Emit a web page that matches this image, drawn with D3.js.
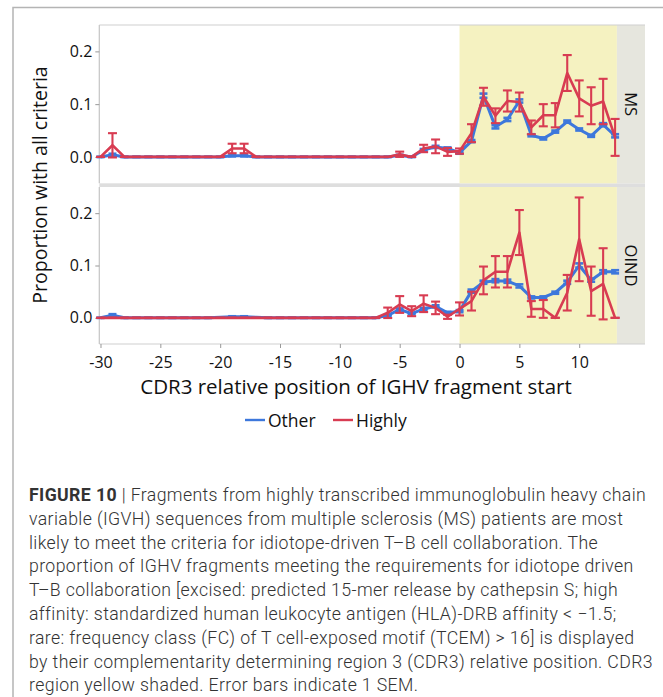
<!DOCTYPE html>
<html>
<head>
<meta charset="utf-8">
<script src="https://cdn.jsdelivr.net/npm/d3@7"></script>
<style>
  html, body { margin: 0; padding: 0; background: #fff; }
  svg { display: block; }
</style>
</head>
<body>
<svg id="fig" width="663" height="697"></svg>
<script>
// CDR3-relative start position of each IGHV fragment
const positions = [-30, -29, -28, -27, -26, -25, -24, -23, -22, -21, -20, -19, -18, -17, -16, -15,
  -14, -13, -12, -11, -10, -9, -8, -7, -6, -5, -4, -3, -2, -1, 0, 1, 2, 3, 4, 5, 6, 7, 8, 9, 10, 11, 12, 13];

// MS panel: proportion meeting all criteria, and its SEM
const msOther = [0, 0.004, 0, 0, 0, 0, 0, 0, 0, 0, 0, 0.002, 0.002, 0, 0, 0,
  0, 0, 0, 0, 0, 0, 0, 0, 0, 0.003, 0, 0.013, 0.019, 0.016, 0.008, 0.030, 0.116, 0.057, 0.071, 0.106, 0.041, 0.035, 0.048, 0.067, 0.052, 0.040, 0.061, 0.040];
const msOtherSem = [0, 0.002, 0, 0, 0, 0, 0, 0, 0, 0, 0, 0.001, 0.001, 0, 0, 0,
  0, 0, 0, 0, 0, 0, 0, 0, 0, 0.001, 0, 0.002, 0.002, 0.002, 0.002, 0.002, 0.004, 0.003, 0.003, 0.003, 0.002, 0.002, 0.002, 0.002, 0.002, 0.002, 0.003, 0.003];
const msHighly = [0, 0.022, 0, 0, 0, 0, 0, 0, 0, 0, 0, 0.016, 0.016, 0, 0, 0,
  0, 0, 0, 0, 0, 0, 0, 0, 0, 0.005, 0, 0.016, 0.020, 0.0095, 0.011, 0.045, 0.114, 0.078, 0.106, 0.104, 0.056, 0.079, 0.079, 0.159, 0.111, 0.097, 0.105, 0.037];
const msHighlySem = [0, 0.023, 0, 0, 0, 0, 0, 0, 0, 0, 0, 0.009, 0.009, 0, 0, 0,
  0, 0, 0, 0, 0, 0, 0, 0, 0, 0.005, 0, 0.007, 0.013, 0.0075, 0.005, 0.017, 0.017, 0.014, 0.020, 0.018, 0.013, 0.021, 0.023, 0.034, 0.034, 0.035, 0.043, 0.035];

// OIND panel
const oindOther = [0, 0.005, 0, 0, 0, 0, 0, 0, 0, 0, 0.001, 0.002, 0.002, 0.001, 0, 0,
  0, 0, 0, 0, 0, 0, 0, 0, 0.0045, 0.016, 0.008, 0.017, 0.022, 0.0096, 0.0128, 0.051, 0.068, 0.071, 0.070, 0.061, 0.039, 0.039, 0.048, 0.068, 0.100, 0.072, 0.088, 0.088];
const oindOtherSem = [0, 0.002, 0, 0, 0, 0, 0, 0, 0, 0, 0, 0.001, 0.001, 0, 0, 0,
  0, 0, 0, 0, 0, 0, 0, 0, 0.001, 0.002, 0.001, 0.002, 0.002, 0.002, 0.002, 0.003, 0.003, 0.003, 0.003, 0.003, 0.002, 0.002, 0.002, 0.003, 0.004, 0.003, 0.003, 0.003];
const oindHighly = [0, 0, 0, 0, 0, 0, 0, 0, 0, 0, 0, 0, 0, 0, 0, 0,
  0, 0, 0, 0, 0, 0, 0, 0, 0.0096, 0.0255, 0.0127, 0.027, 0.019, 0.002, 0.017, 0.032, 0.0715, 0.088, 0.088, 0.163, 0.017, 0.017, 0, 0.048, 0.150, 0.051, 0.065, 0];
const oindHighlySem = [0, 0, 0, 0, 0, 0, 0, 0, 0, 0, 0, 0, 0, 0, 0, 0,
  0, 0, 0, 0, 0, 0, 0, 0, 0.010, 0.016, 0.0095, 0.016, 0.012, 0.004, 0.0125, 0.018, 0.0265, 0.030, 0.030, 0.043, 0.015, 0.017, 0, 0.034, 0.080, 0.047, 0.068, 0];

const xTicks = [-30, -25, -20, -15, -10, -5, 0, 5, 10];
const yTicks = [0, 0.1, 0.2];
const cdr3Span = [0, 13.15];
const panelNames = ["MS", "OIND"];
const seriesNames = ["Other", "Highly"];

const captionLines = [
  [["FIGURE 10", true], [" | Fragments from highly transcribed immunoglobulin heavy chain", false]],
  [["variable (IGVH) sequences from multiple sclerosis (MS) patients are most", false]],
  [["likely to meet the criteria for idiotope-driven T\u2013B cell collaboration. The", false]],
  [["proportion of IGHV fragments meeting the requirements for idiotope driven", false]],
  [["T\u2013B collaboration [excised: predicted 15-mer release by cathepsin S; high", false]],
  [["affinity: standardized human leukocyte antigen (HLA)-DRB affinity < \u22121.5;", false]],
  [["rare: frequency class (FC) of T cell-exposed motif (TCEM) > 16] is displayed", false]],
  [["by their complementarity determining region 3 (CDR3) relative position. CDR3", false]],
  [["region yellow shaded. Error bars indicate 1 SEM.", false]]
];

const colors = { Other: "#3d78dc", Highly: "#d83c52" };
const axisFont = "'Open Sans', 'Noto Sans', sans-serif";

const svg = d3.select("#fig");

// figure frame
svg.append("path")
  .attr("d", "M13,697 V7.5 H663")
  .attr("fill", "none").attr("stroke", "#b4b4b4").attr("stroke-width", 1.5);

const plotL = 99.3, plotR = 616.9, stripR = 645;
const x = d3.scaleLinear().domain([-30.1, 13.15]).range([plotL, plotR]);

const panels = [
  { name: "MS", top: 25, bottom: 183.3, other: msOther, otherSem: msOtherSem, highly: msHighly, highlySem: msHighlySem },
  { name: "OIND", top: 187, bottom: 344, other: oindOther, otherSem: oindOtherSem, highly: oindHighly, highlySem: oindHighlySem }
];

// gap band between the two panels
svg.append("rect")
  .attr("x", plotL).attr("y", 183.3).attr("width", stripR - plotL).attr("height", 3.7)
  .attr("fill", "#dedede");

panels.forEach((p, pi) => {
  const y = d3.scaleLinear().domain([-0.05, 0.25]).range([p.bottom, p.top]);
  const g = svg.append("g");

  // CDR3 shading
  g.append("rect")
    .attr("x", x(cdr3Span[0])).attr("y", p.top)
    .attr("width", x(cdr3Span[1]) - x(cdr3Span[0])).attr("height", p.bottom - p.top)
    .attr("fill", "#f5f2c1");

  // strip with panel name
  g.append("rect")
    .attr("x", plotR).attr("y", p.top).attr("width", stripR - plotR).attr("height", p.bottom - p.top)
    .attr("fill", "#e6e6de");
  g.append("text")
    .attr("transform", `translate(${(plotR + stripR) / 2 - 6},${(p.top + p.bottom) / 2}) rotate(90)`)
    .attr("text-anchor", "middle")
    .attr("font-family", axisFont).attr("font-size", 16.5).attr("fill", "#111")
    .text(panelNames[pi]);

  // panel borders
  if (pi === 0) {
    g.append("line").attr("x1", plotL).attr("x2", stripR).attr("y1", p.top).attr("y2", p.top)
      .attr("stroke", "#cfcfcf").attr("stroke-width", 1.2);
  } else {
    g.append("line").attr("x1", plotL).attr("x2", stripR).attr("y1", p.bottom).attr("y2", p.bottom)
      .attr("stroke", "#cfcfcf").attr("stroke-width", 1.2);
  }
  g.append("line").attr("x1", plotL).attr("x2", plotL).attr("y1", p.top).attr("y2", p.bottom)
    .attr("stroke", "#c4c4c4").attr("stroke-width", 1.2);

  // y axis
  const yAxis = d3.axisLeft(y).tickValues(yTicks).tickFormat(d3.format(".1f")).tickSize(4).tickPadding(3);
  const ya = g.append("g").attr("transform", `translate(${plotL},0)`).call(yAxis);
  ya.select(".domain").remove();
  ya.selectAll(".tick line").attr("stroke", "#999");
  ya.selectAll(".tick text").attr("font-family", axisFont).attr("font-size", 16).attr("fill", "#111");

  // series
  const drawSeries = (vals, sems, color, width, capW, capStroke) => {
    const pts = positions.map((v, i) => ({ v, m: vals[i], s: sems[i] }));
    const line = d3.line().x(d => x(d.v)).y(d => y(d.m));
    const sg = g.append("g");
    sg.append("path").datum(pts).attr("d", line)
      .attr("fill", "none").attr("stroke", color).attr("stroke-width", width)
      .attr("stroke-linejoin", "round");
    const eb = sg.selectAll(".eb").data(pts).join("g");
    eb.append("line")
      .attr("x1", d => x(d.v)).attr("x2", d => x(d.v))
      .attr("y1", d => y(d.m + d.s)).attr("y2", d => y(d.m - d.s))
      .attr("stroke", color).attr("stroke-width", capStroke);
    [1, -1].forEach(sgn => {
      eb.append("line")
        .attr("x1", d => x(d.v) - capW / 2).attr("x2", d => x(d.v) + capW / 2)
        .attr("y1", d => y(d.m + sgn * d.s)).attr("y2", d => y(d.m + sgn * d.s))
        .attr("stroke", color).attr("stroke-width", capStroke);
    });
  };
  drawSeries(p.other, p.otherSem, colors.Other, 3, 8, 2.6);
  drawSeries(p.highly, p.highlySem, colors.Highly, 2.6, 9, 2.1);

  // x ticks under the lower panel
  if (pi === 1) {
    const xAxis = d3.axisBottom(x).tickValues(xTicks).tickSize(4).tickPadding(9).tickFormat(d3.format("d"));
    const xa = svg.append("g").attr("transform", `translate(0,${p.bottom})`).call(xAxis);
    xa.select(".domain").remove();
    xa.selectAll(".tick line").attr("stroke", "#999");
    xa.selectAll(".tick text").attr("font-family", axisFont).attr("font-size", 16).attr("fill", "#111")
      .text(d => d < 0 ? "-" + Math.abs(d) : d);
  }
});

// axis titles
svg.append("text")
  .attr("x", 356).attr("y", 394)
  .attr("text-anchor", "middle")
  .attr("font-family", axisFont).attr("font-size", 20.5).attr("fill", "#111")
  .text("CDR3 relative position of IGHV fragment start");
svg.append("text")
  .attr("transform", "translate(47,185) rotate(-90)")
  .attr("text-anchor", "middle")
  .attr("font-family", axisFont).attr("font-size", 19.5).attr("fill", "#111")
  .text("Proportion with all criteria");

// legend
const legend = svg.append("g").attr("transform", "translate(245,420)");
[["Other", 0], ["Highly", 88]].forEach(([name, dx]) => {
  legend.append("line").attr("x1", dx).attr("x2", dx + 20).attr("y1", 0).attr("y2", 0)
    .attr("stroke", colors[name]).attr("stroke-width", 2.4);
  legend.append("text").attr("x", dx + 23).attr("y", 6.5)
    .attr("font-family", axisFont).attr("font-size", 17.5).attr("fill", "#111")
    .text(name);
});

// caption
const cap = svg.append("text")
  .attr("font-family", "Roboto, 'Liberation Sans', sans-serif")
  .attr("font-size", 17.7).attr("letter-spacing", 0.38).attr("fill", "#333");
captionLines.forEach((segs, i) => {
  const t = cap.append("tspan").attr("x", 29).attr("y", 501 + i * 23.8);
  segs.forEach(([txt, bold], j) => {
    const s = j === 0 ? t : cap.append("tspan");
    s.attr("font-weight", bold ? 700 : 300).text(txt);
  });
});
</script>
</body>
</html>
